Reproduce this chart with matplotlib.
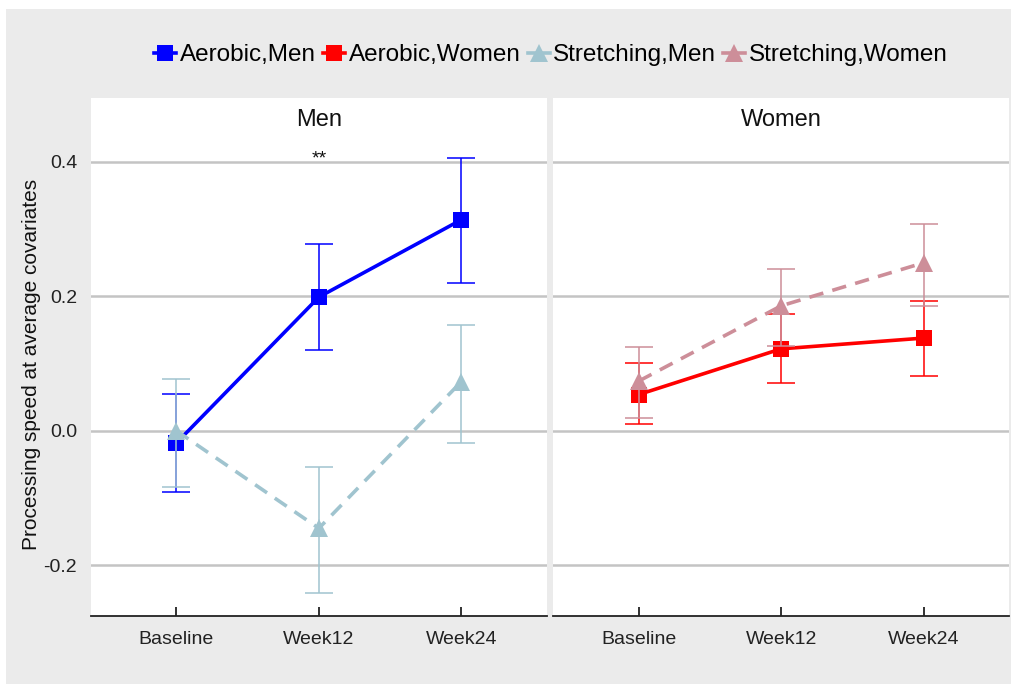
import matplotlib
matplotlib.use("Agg")
import matplotlib.pyplot as plt
from matplotlib.lines import Line2D
from matplotlib.patches import Rectangle
import numpy as np

plt.rcParams['font.family'] = ['Liberation Sans', 'DejaVu Sans']

# Time points
timepoints = ["Baseline", "Week12", "Week24"]
panels = ["Men", "Women"]

# Estimated processing speed (mean, lower CI, upper CI)
aerobic_men = [-0.018, 0.199, 0.314]
aerobic_men_lo = [-0.091, 0.120, 0.220]
aerobic_men_hi = [0.055, 0.278, 0.406]

stretching_men = [0.000, -0.145, 0.073]
stretching_men_lo = [-0.083, -0.242, -0.018]
stretching_men_hi = [0.077, -0.054, 0.158]

aerobic_women = [0.054, 0.122, 0.138]
aerobic_women_lo = [0.010, 0.071, 0.082]
aerobic_women_hi = [0.101, 0.174, 0.193]

stretching_women = [0.074, 0.186, 0.250]
stretching_women_lo = [0.019, 0.126, 0.186]
stretching_women_hi = [0.125, 0.241, 0.308]

y_ticks = [-0.2, 0.0, 0.2, 0.4]
y_tick_labels = ["-0.2", "0.0", "0.2", "0.4"]

annotation_text = "**"
annotation_x = 1
annotation_y = 0.404

c_blue = "#0000FF"
c_red = "#FF0000"
c_lblue = "#A0C4CF"
c_pink = "#CD8E99"

W, H = 1012, 684
fig = plt.figure(figsize=(W / 100, H / 100), dpi=100)
fig.patch.set_facecolor("white")
fig.patches.append(Rectangle((6 / W, 0), 1 - 6 / W, 1 - 9 / H, transform=fig.transFigure,
                             facecolor="#EBEBEB", edgecolor="none", zorder=-10))

bottom = 1 - 616 / H
height = (616 - 98) / H
ax_l = fig.add_axes([91 / W, bottom, 455.7 / W, height])
ax_r = fig.add_axes([553.3 / W, bottom, 455.7 / W, height])

x = np.arange(len(timepoints))

series = {
    "Men": [
        ("Aerobic,Men", aerobic_men, aerobic_men_lo, aerobic_men_hi, c_blue, "s", "-"),
        ("Stretching,Men", stretching_men, stretching_men_lo, stretching_men_hi, c_lblue, "^", "--"),
    ],
    "Women": [
        ("Aerobic,Women", aerobic_women, aerobic_women_lo, aerobic_women_hi, c_red, "s", "-"),
        ("Stretching,Women", stretching_women, stretching_women_lo, stretching_women_hi, c_pink, "^", "--"),
    ],
}

for ax, panel in zip([ax_l, ax_r], panels):
    ax.set_facecolor("white")
    ax.set_xlim(-0.6, 2.6)
    ax.set_ylim(-0.2755, 0.4952)
    for yv in y_ticks:
        ax.axhline(yv, color="#C4C4C4", lw=1.8, zorder=0)
    for z, (name, mean, lo, hi, col, mk, ls) in enumerate(series[panel]):
        mean = np.array(mean)
        yerr = [mean - np.array(lo), np.array(hi) - mean]
        ax.errorbar(x, mean, yerr=yerr, fmt="none", ecolor=col, elinewidth=1.1,
                    capsize=10, capthick=1.1, zorder=2 + 2 * z)
        line, = ax.plot(x, mean, color=col, lw=2.6, linestyle=ls,
                        marker=mk, markersize=11.5 if mk == "s" else 13.5,
                        markeredgewidth=0, zorder=3 + 2 * z)
        if ls == "--":
            line.set_dashes((4, 2.6))
    for sp in ["top", "right", "left"]:
        ax.spines[sp].set_visible(False)
    ax.spines["bottom"].set_color("#222222")
    ax.spines["bottom"].set_linewidth(1.3)
    ax.set_xticks(x)
    ax.set_xticklabels(timepoints, fontsize=14, color="#222222")
    ax.tick_params(axis="x", direction="in", length=6.5, width=1.3, color="#222222", pad=11)
    ax.set_yticks(y_ticks)
    ax.tick_params(axis="y", length=0, pad=10)
    ax.text(0.5, 0.957, panel, transform=ax.transAxes, ha="center", va="center",
            fontsize=17, color="#111111")

ax_l.set_yticklabels(y_tick_labels, fontsize=14, color="#222222")
ax_r.set_yticklabels([])
ax_l.set_ylabel("Processing speed at average covariates", fontsize=15, color="#111111")
ax_l.yaxis.set_label_coords(-0.11, 0.485)

ax_l.text(annotation_x, annotation_y, annotation_text, ha="center", va="center",
          fontsize=14, color="#111111")

handles = [
    Line2D([], [], color=c_blue, lw=2.6, marker="s", markersize=11.5, markeredgewidth=0),
    Line2D([], [], color=c_red, lw=2.6, marker="s", markersize=11.5, markeredgewidth=0),
    Line2D([], [], color=c_lblue, lw=2.6, marker="^", markersize=13.5, markeredgewidth=0),
    Line2D([], [], color=c_pink, lw=2.6, marker="^", markersize=13.5, markeredgewidth=0),
]
labels = ["Aerobic,Men", "Aerobic,Women", "Stretching,Men", "Stretching,Women"]
fig.legend(handles, labels, loc="center", bbox_to_anchor=(551 / W, 1 - 55 / H), ncol=4,
           frameon=False, fontsize=17.5, handlelength=0.9, handletextpad=0.15,
           columnspacing=0.3, borderaxespad=0)

fig.savefig("out.png", dpi=100, facecolor=fig.get_facecolor())
